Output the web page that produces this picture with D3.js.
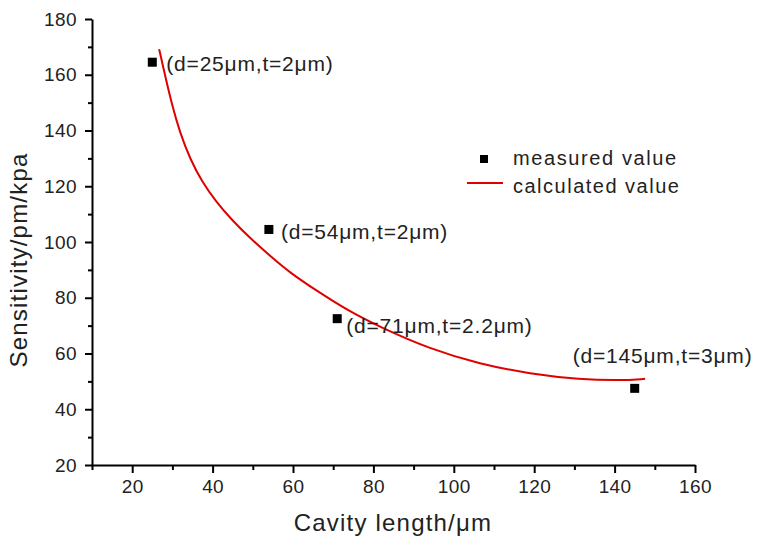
<!DOCTYPE html>
<html>
<head>
<meta charset="utf-8">
<script src="https://cdn.jsdelivr.net/npm/d3@7"></script>
<style>
  body { margin: 0; background: #fff; }
  text { font-family: "Liberation Sans", Arial, sans-serif; fill: #222; }
</style>
</head>
<body>
<div id="chart"></div>
<script>

// measured points
var cavityLen = [25, 54, 71, 145];
var sensitivity = [164.5, 104.5, 72.5, 47.5];
var pointLabels = ['(d=25\u03bcm,t=2\u03bcm)', '(d=54\u03bcm,t=2\u03bcm)', '(d=71\u03bcm,t=2.2\u03bcm)', '(d=145\u03bcm,t=3\u03bcm)'];

// calculated curve
var calcX = [26.7, 28.2, 29.9, 31.9, 34.4, 37.4, 40.9, 44.8, 49.3, 54.3, 59.3, 66.0, 73.4, 81.6, 94.1, 106.5, 119.0, 131.4, 141.3, 147.6];
var calcY = [169.2, 159.6, 149.2, 139.1, 129.8, 121.5, 114.4, 107.9, 101.4, 95.0, 88.9, 82.4, 75.6, 69.5, 61.6, 56.2, 52.7, 50.7, 50.3, 50.9];

var xMajor = [20, 40, 60, 80, 100, 120, 140, 160];
var xMinor = [10, 30, 50, 70, 90, 110, 130, 150];
var yMajor = [20, 40, 60, 80, 100, 120, 140, 160, 180];
var yMinor = [30, 50, 70, 90, 110, 130, 150, 170];

var svg = d3.select('#chart')
  .append('svg')
  .attr('width', 761)
  .attr('height', 544);

var x = d3.scaleLinear().domain([10, 160]).range([92, 695]);
var y = d3.scaleLinear().domain([20, 180]).range([465, 19]);

// x axis
var gx = svg.append('g').attr('transform', 'translate(0,465)');
gx.call(d3.axisBottom(x).tickValues(xMajor).tickSize(8).tickSizeOuter(0).tickPadding(7));
gx.append('g').call(d3.axisBottom(x).tickValues(xMinor).tickSize(5).tickFormat(''))
  .select('.domain').remove();

// y axis
var gy = svg.append('g').attr('transform', 'translate(92,0)');
gy.call(d3.axisLeft(y).tickValues(yMajor).tickSize(7).tickSizeOuter(0).tickPadding(8));
gy.append('g').call(d3.axisLeft(y).tickValues(yMinor).tickSize(4).tickFormat(''))
  .select('.domain').remove();

svg.selectAll('.domain').attr('stroke', '#000').attr('stroke-width', 2);
svg.selectAll('.tick line').attr('stroke', '#000').attr('stroke-width', 2);
svg.selectAll('.tick text')
  .attr('font-size', 19)
  .attr('letter-spacing', 0.4)
  .attr('fill', '#1a1a1a')
  .attr('font-family', '"Liberation Sans", Arial, sans-serif');

// axis titles
svg.append('text')
  .attr('x', 393).attr('y', 531)
  .attr('text-anchor', 'middle')
  .attr('font-size', 24)
  .attr('letter-spacing', 1.2)
  .text('Cavity length/\u03bcm');

svg.append('text')
  .attr('transform', 'translate(27,260) rotate(-90)')
  .attr('text-anchor', 'middle')
  .attr('font-size', 24)
  .attr('letter-spacing', 1.2)
  .text('Sensitivity/pm/kpa');

// curve
var line = d3.line()
  .x(function(d){ return x(d[0]); })
  .y(function(d){ return y(d[1]); })
  .curve(d3.curveBasis);

svg.append('path')
  .datum(d3.zip(calcX, calcY))
  .attr('d', line)
  .attr('fill', 'none')
  .attr('stroke', '#e00000')
  .attr('stroke-width', 2);

// points
var pts = d3.zip(cavityLen, sensitivity, pointLabels);
var labelOffsets = [[14, 9], [12, 10], [9, 14], [-62, -25]];

svg.selectAll('rect.pt')
  .data(pts)
  .enter()
  .append('rect')
  .classed('pt', true)
  .attr('x', function(d){ return x(d[0]) - 4.5; })
  .attr('y', function(d){ return y(d[1]) - 4.5; })
  .attr('width', 9)
  .attr('height', 9)
  .attr('fill', '#000');

svg.selectAll('text.lbl')
  .data(pts)
  .enter()
  .append('text')
  .classed('lbl', true)
  .attr('x', function(d, i){ return x(d[0]) + labelOffsets[i][0]; })
  .attr('y', function(d, i){ return y(d[1]) + labelOffsets[i][1]; })
  .attr('font-size', 21)
  .attr('letter-spacing', 0.8)
  .text(function(d){ return d[2]; });

// legend
var legend = svg.append('g');
legend.append('rect')
  .attr('x', 480).attr('y', 155).attr('width', 8).attr('height', 8)
  .attr('fill', '#000');
legend.append('text')
  .attr('x', 513).attr('y', 165)
  .attr('font-size', 20).attr('letter-spacing', 1.6)
  .text('measured value');
legend.append('line')
  .attr('x1', 467).attr('x2', 503).attr('y1', 183).attr('y2', 183)
  .attr('stroke', '#e00000').attr('stroke-width', 2);
legend.append('text')
  .attr('x', 513).attr('y', 193)
  .attr('font-size', 20).attr('letter-spacing', 1.5)
  .text('calculated value');

</script>
</body>
</html>
